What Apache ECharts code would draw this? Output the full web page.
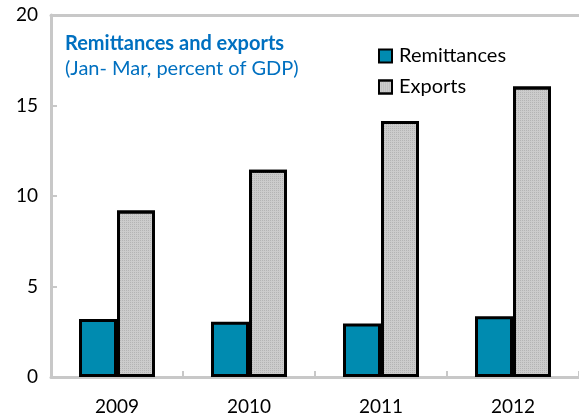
<!DOCTYPE html>
<html>
<head>
<meta charset="utf-8">
<script src="https://cdn.jsdelivr.net/npm/echarts@6/dist/echarts.min.js"></script>
<style>
  html, body { margin: 0; padding: 0; background: #fff; }
  #main { width: 579px; height: 419px; }
</style>
</head>
<body>
<div id="main"></div>
<script>
// years and series (percent of GDP, Jan-Mar)
var years = ['2009', '2010', '2011', '2012'];
var remittances = [3.2, 3.05, 2.95, 3.35];
var exportsData = [9.2, 11.45, 14.15, 16.05];

var font = 'Lato, "Open Sans", sans-serif';
var chart = echarts.init(document.getElementById('main'));

var option = {
  animation: false,
  textStyle: { fontFamily: font },
  title: {
    text: 'Remittances and exports',
    subtext: '(Jan- Mar, percent of GDP)',
    left: 60,
    top: 29,
    itemGap: 5,
    textStyle: { color: '#0070C0', fontSize: 20, fontWeight: 'bold', fontFamily: font },
    subtextStyle: { color: '#0070C0', fontSize: 20, fontFamily: font }
  },
  legend: {
    orient: 'vertical',
    left: 373,
    top: 41,
    itemWidth: 13,
    itemHeight: 13,
    itemGap: 11,
    icon: 'rect',
    textStyle: { fontSize: 20, color: '#000', fontFamily: font, padding: [0, 0, 0, 2] },
    data: ['Remittances', 'Exports']
  },
  grid: { left: 51, right: 0, top: 15, bottom: 42 },
  xAxis: [{
    type: 'category',
    data: years,
    axisLine: { lineStyle: { color: '#c8c8c8', width: 3 } },
    axisTick: { show: true, inside: true, length: 6, lineStyle: { color: '#c8c8c8', width: 2 } },
    axisLabel: { color: '#000', fontSize: 19, margin: 20 }
  }, {
    type: 'category',
    data: years,
    position: 'top',
    axisLine: { show: true, lineStyle: { color: '#c8c8c8', width: 3 } },
    axisTick: { show: false },
    axisLabel: { show: false }
  }],
  yAxis: {
    type: 'value',
    min: 0,
    max: 20,
    interval: 5,
    splitLine: { show: false },
    axisLine: { show: true, lineStyle: { color: '#c8c8c8', width: 3 } },
    axisTick: { show: true, inside: true, length: 6, lineStyle: { color: '#c8c8c8', width: 2 } },
    axisLabel: { color: '#000', fontSize: 19, margin: 13 }
  },
  series: [{
    name: 'Remittances',
    type: 'bar',
    data: remittances,
    barWidth: 38,
    barGap: '0%',
    itemStyle: { color: '#008BB0', borderColor: '#000', borderWidth: 3 }
  }, {
    name: 'Exports',
    type: 'bar',
    data: exportsData,
    barWidth: 38,
    barGap: '0%',
    itemStyle: {
      color: '#cccccc',
      borderColor: '#000',
      borderWidth: 3,
      decal: {
        symbol: 'rect',
        symbolSize: 1,
        dashArrayX: [1, 1],
        dashArrayY: [1, 1],
        rotation: 0,
        color: 'rgba(150,150,150,0.45)'
      }
    }
  }]
};

chart.setOption(option);
</script>
</body>
</html>
